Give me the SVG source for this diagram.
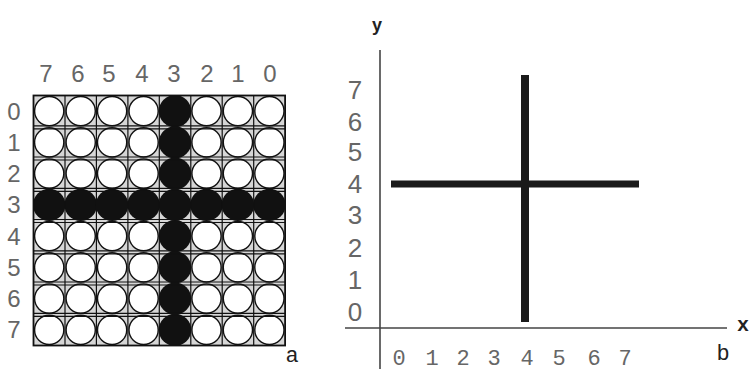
<svg xmlns="http://www.w3.org/2000/svg" xmlns:xlink="http://www.w3.org/1999/xlink" width="749" height="371" viewBox="0 0 749 371">
<style>
.lbl{font-family:"Liberation Sans","DejaVu Sans",sans-serif;font-size:24px;fill:#666;text-anchor:middle}
.mono{font-family:"Liberation Mono","DejaVu Sans Mono",monospace;font-size:22px;fill:#666;text-anchor:middle}
.w{fill:#fff;stroke:#111;stroke-width:1.4}
.k{fill:#111}
.gl{stroke:#111;stroke-width:1.2;fill:none}
.axis{stroke:#444;stroke-width:1.6;fill:none}
.bar{stroke:#1a1a1a;fill:none}
</style>
<defs>
<circle id="cw" r="14.6" class="w"/>
<circle id="ck" r="16.2" class="k"/>
</defs>
<rect width="749" height="371" fill="#fff"/>
<g id="panel-a">
<rect x="33.5" y="95.5" width="251.6" height="250" fill="#d6d6d6"/>
<g id="circles">
<use xlink:href="#cw" x="49.2" y="111.1"/><use xlink:href="#cw" x="80.7" y="111.1"/><use xlink:href="#cw" x="112.1" y="111.1"/><use xlink:href="#cw" x="143.6" y="111.1"/><use xlink:href="#cw" x="206.5" y="111.1"/><use xlink:href="#cw" x="237.9" y="111.1"/><use xlink:href="#cw" x="269.4" y="111.1"/>
<use xlink:href="#cw" x="49.2" y="142.4"/><use xlink:href="#cw" x="80.7" y="142.4"/><use xlink:href="#cw" x="112.1" y="142.4"/><use xlink:href="#cw" x="143.6" y="142.4"/><use xlink:href="#cw" x="206.5" y="142.4"/><use xlink:href="#cw" x="237.9" y="142.4"/><use xlink:href="#cw" x="269.4" y="142.4"/>
<use xlink:href="#cw" x="49.2" y="173.6"/><use xlink:href="#cw" x="80.7" y="173.6"/><use xlink:href="#cw" x="112.1" y="173.6"/><use xlink:href="#cw" x="143.6" y="173.6"/><use xlink:href="#cw" x="206.5" y="173.6"/><use xlink:href="#cw" x="237.9" y="173.6"/><use xlink:href="#cw" x="269.4" y="173.6"/>
<use xlink:href="#cw" x="49.2" y="236.1"/><use xlink:href="#cw" x="80.7" y="236.1"/><use xlink:href="#cw" x="112.1" y="236.1"/><use xlink:href="#cw" x="143.6" y="236.1"/><use xlink:href="#cw" x="206.5" y="236.1"/><use xlink:href="#cw" x="237.9" y="236.1"/><use xlink:href="#cw" x="269.4" y="236.1"/>
<use xlink:href="#cw" x="49.2" y="267.4"/><use xlink:href="#cw" x="80.7" y="267.4"/><use xlink:href="#cw" x="112.1" y="267.4"/><use xlink:href="#cw" x="143.6" y="267.4"/><use xlink:href="#cw" x="206.5" y="267.4"/><use xlink:href="#cw" x="237.9" y="267.4"/><use xlink:href="#cw" x="269.4" y="267.4"/>
<use xlink:href="#cw" x="49.2" y="298.6"/><use xlink:href="#cw" x="80.7" y="298.6"/><use xlink:href="#cw" x="112.1" y="298.6"/><use xlink:href="#cw" x="143.6" y="298.6"/><use xlink:href="#cw" x="206.5" y="298.6"/><use xlink:href="#cw" x="237.9" y="298.6"/><use xlink:href="#cw" x="269.4" y="298.6"/>
<use xlink:href="#cw" x="49.2" y="329.9"/><use xlink:href="#cw" x="80.7" y="329.9"/><use xlink:href="#cw" x="112.1" y="329.9"/><use xlink:href="#cw" x="143.6" y="329.9"/><use xlink:href="#cw" x="206.5" y="329.9"/><use xlink:href="#cw" x="237.9" y="329.9"/><use xlink:href="#cw" x="269.4" y="329.9"/>
<use xlink:href="#ck" x="175" y="111.1"/><use xlink:href="#ck" x="175" y="142.4"/><use xlink:href="#ck" x="175" y="173.6"/><use xlink:href="#ck" x="175" y="236.1"/><use xlink:href="#ck" x="175" y="267.4"/><use xlink:href="#ck" x="175" y="298.6"/><use xlink:href="#ck" x="175" y="329.9"/>
<use xlink:href="#ck" x="49.2" y="204.9"/><use xlink:href="#ck" x="80.7" y="204.9"/><use xlink:href="#ck" x="112.1" y="204.9"/><use xlink:href="#ck" x="143.6" y="204.9"/><use xlink:href="#ck" x="175" y="204.9"/><use xlink:href="#ck" x="206.5" y="204.9"/><use xlink:href="#ck" x="237.9" y="204.9"/><use xlink:href="#ck" x="269.4" y="204.9"/>
</g>
<g id="gridlines" class="gl">
<path d="M65 95.5V345.5M96.4 95.5V345.5M127.9 95.5V345.5M159.3 95.5V345.5M190.8 95.5V345.5M222.2 95.5V345.5M253.7 95.5V345.5"/>
<path d="M33.5 125.8H285.1M33.5 128.8H285.1M33.5 157H285.1M33.5 160H285.1M33.5 188.3H285.1M33.5 191.3H285.1M33.5 219.5H285.1M33.5 222.5H285.1M33.5 250.8H285.1M33.5 253.8H285.1M33.5 282H285.1M33.5 285H285.1M33.5 313.3H285.1M33.5 316.3H285.1"/>
<rect x="33.5" y="95.5" width="251.6" height="250" stroke-width="1.8"/>
</g>
<g id="col-labels">
<text class="lbl" x="46" y="82">7</text><text class="lbl" x="78" y="82">6</text><text class="lbl" x="109" y="82">5</text><text class="lbl" x="142" y="82">4</text><text class="lbl" x="174" y="82">3</text><text class="lbl" x="207" y="82">2</text><text class="lbl" x="238" y="82">1</text><text class="lbl" x="270" y="82">0</text>
</g>
<g id="row-labels">
<text class="lbl" x="14" y="119.5">0</text><text class="lbl" x="14" y="150.8">1</text><text class="lbl" x="14" y="182">2</text><text class="lbl" x="14" y="213.3">3</text><text class="lbl" x="14" y="244.5">4</text><text class="lbl" x="14" y="275.8">5</text><text class="lbl" x="14" y="307">6</text><text class="lbl" x="14" y="338.3">7</text>
</g>
<text class="mono" x="292" y="362" style="fill:#222">a</text>
</g>
<g id="panel-b">
<g id="axes" class="axis">
<line x1="380" y1="50" x2="380" y2="369"/>
<line x1="345" y1="328" x2="727" y2="328"/>
</g>
<g id="bars" class="bar">
<line x1="525" y1="75" x2="525" y2="322" stroke-width="8"/>
<line x1="391" y1="184" x2="639" y2="184" stroke-width="7"/>
</g>
<g id="y-labels">
<text class="lbl" x="355" y="99" style="font-size:26px">7</text><text class="lbl" x="355" y="130.5" style="font-size:26px">6</text><text class="lbl" x="355" y="161" style="font-size:26px">5</text><text class="lbl" x="355" y="192.5" style="font-size:26px">4</text><text class="lbl" x="355" y="224" style="font-size:26px">3</text><text class="lbl" x="355" y="256.5" style="font-size:26px">2</text><text class="lbl" x="355" y="289" style="font-size:26px">1</text><text class="lbl" x="355" y="320.5" style="font-size:26px">0</text>
</g>
<g id="x-labels">
<text class="mono" x="399" y="365">0</text><text class="mono" x="432" y="365">1</text><text class="mono" x="463" y="365">2</text><text class="mono" x="494" y="365">3</text><text class="mono" x="527" y="365">4</text><text class="mono" x="559" y="365">5</text><text class="mono" x="594" y="365">6</text><text class="mono" x="625" y="365">7</text>
</g>
<text x="377" y="31" style="font-family:'Liberation Sans',sans-serif;font-weight:bold;font-size:18px;fill:#222;text-anchor:middle">y</text>
<text x="743" y="331" style="font-family:'Liberation Mono',monospace;font-weight:bold;font-size:20px;fill:#222;text-anchor:middle">x</text>
<text class="mono" x="723" y="360" style="fill:#222">b</text>
</g>
</svg>
